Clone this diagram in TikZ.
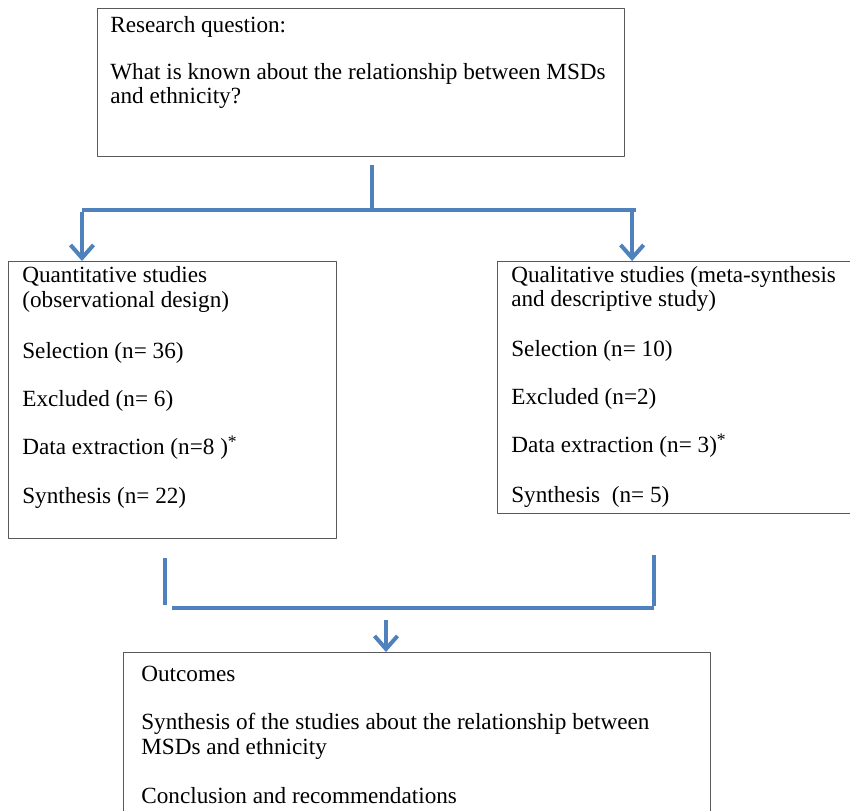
\documentclass[tikz,border=0pt]{standalone}
\usepackage{fontspec}
\setmainfont{Liberation Serif}
\usetikzlibrary{arrows.meta}
\definecolor{linkblue}{HTML}{4F81BD}
\newcommand{\starnote}{{\fontsize{10}{10}\selectfont\raisebox{.42em}{*}}}
\begin{document}
\begin{tikzpicture}[x=0.02cm, y=0.02cm, line join=round, line cap=round, font=\fontsize{13.2}{15}\selectfont]
    \tikzset{frame/.style={draw=black!65, line width=0.8pt, inner sep=0, anchor=north west},
             txt/.style={anchor=base west, inner sep=0},
             link/.style={linkblue, line width=2.3pt, line cap=butt},
             tip/.style={-{Straight Barb[length=2.6mm, width=4.6mm, line width=2.3pt]}}}
    \useasboundingbox (0,0) rectangle (850,-811);
    % boxes
    \node[frame, minimum width=10.54cm, minimum height=2.96cm] (question) at (97,-8) {};
    \node[frame, minimum width=6.56cm, minimum height=5.54cm] (quant) at (8,-261) {};
    \node[frame, minimum width=7.46cm, minimum height=5.04cm] (qual) at (497,-261) {};
    \node[frame, minimum width=11.74cm, minimum height=3.6cm] (outcome) at (123,-652) {};
    % texts
    \node[txt] (q1) at (110,-33) {Research question:};
    \node[txt] (q2) at (110,-80) {What is known about the relationship between MSDs};
    \node[txt] (q3) at (110,-104) {and ethnicity?};
    \node[txt] (l1) at (22,-283) {Quantitative studies};
    \node[txt] (l2) at (22,-308) {(observational design)};
    \node[txt] (l3) at (22,-358) {Selection (n= 36)};
    \node[txt] (l4) at (22,-407) {Excluded (n= 6)};
    \node[txt] (l5) at (22,-455) {Data extraction (n=8 )\starnote};
    \node[txt] (l6) at (22,-503) {Synthesis (n= 22)};
    \node[txt] (r1) at (511,-283) {Qualitative studies (meta-synthesis};
    \node[txt] (r2) at (511,-307) {and descriptive study)};
    \node[txt] (r3) at (511,-357) {Selection (n= 10)};
    \node[txt] (r4) at (511,-405) {Excluded (n=2)};
    \node[txt] (r5) at (511,-453) {Data extraction (n= 3)\starnote};
    \node[txt] (r6) at (511,-502) {Synthesis\ \ (n= 5)};
    \node[txt] (o1) at (141,-682) {Outcomes};
    \node[txt] (o2) at (141,-729) {Synthesis of the studies about the relationship between};
    \node[txt] (o3) at (141,-754) {MSDs and ethnicity};
    \node[txt] (o4) at (141,-803) {Conclusion and recommendations};
    % connectors
    \coordinate (stem) at (372,-165);
    \coordinate (split) at (372,-210);
    \coordinate (splitL) at (82,-210);
    \coordinate (splitR) at (636,-210);
    \draw[link] (stem) -- ([yshift=1.2pt]split);
    \draw[link] (splitL) -- (splitR);
    \draw[link, tip] ([yshift=-1.2pt]splitL) -- (splitL |- quant.north);
    \draw[link, tip] ([xshift=-2.2pt, yshift=-1.2pt]splitR) -- ([xshift=-2.2pt]splitR |- qual.north);
    \coordinate (joinL) at (172,-608);
    \coordinate (joinR) at (654,-608);
    \draw[link] (165,-558) -- (165,-605);
    \draw[link] (654,-555) -- ([yshift=1.2pt]joinR);
    \draw[link] (joinL) -- (joinR);
    \draw[link, tip] (386,-620) -- (386,-620 |- outcome.north);
\end{tikzpicture}
\end{document}
